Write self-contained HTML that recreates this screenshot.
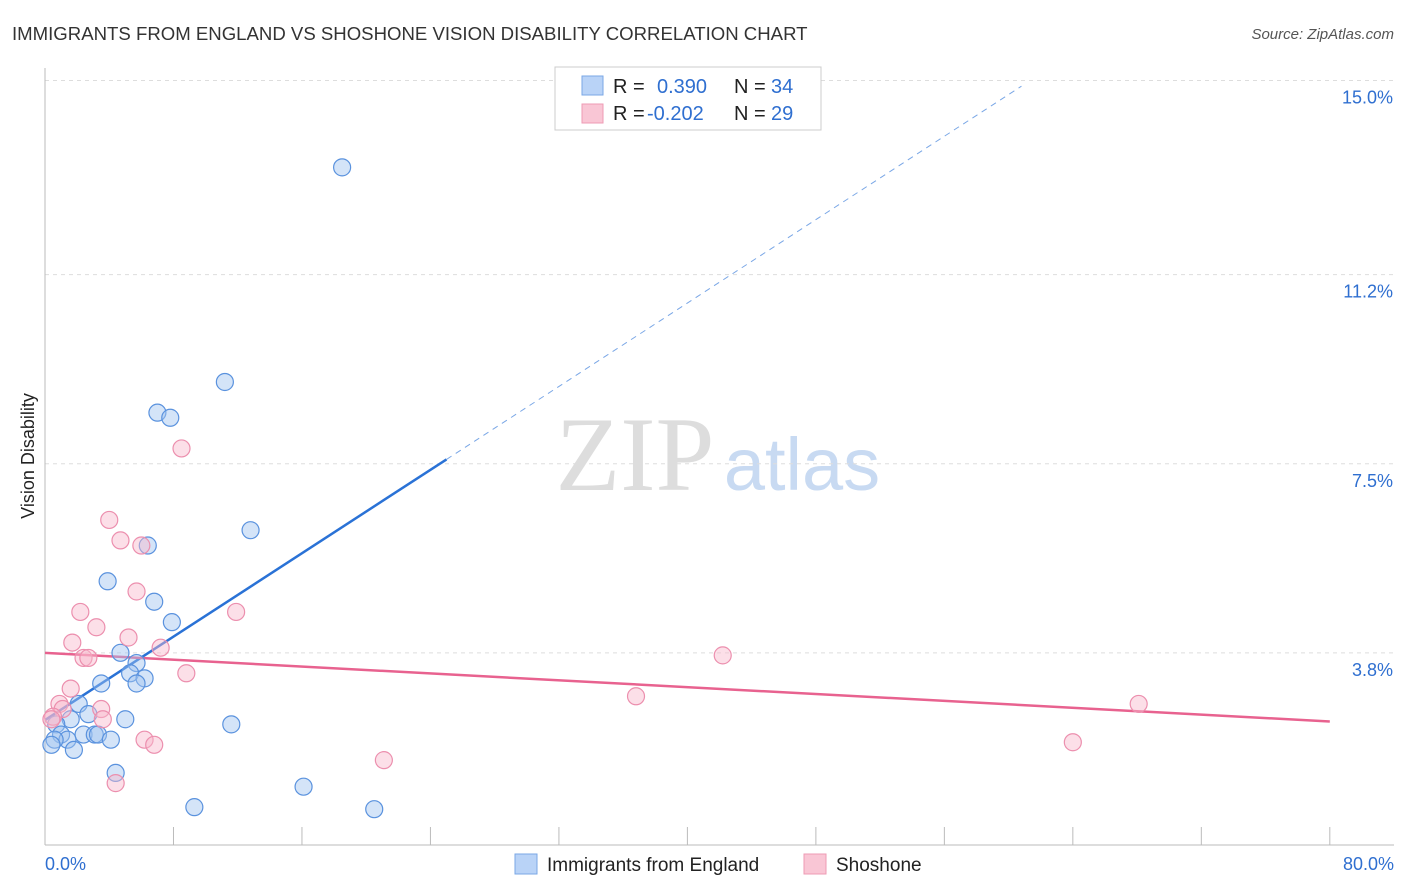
<!DOCTYPE html>
<html><head><meta charset="utf-8"><style>
body{margin:0;background:#fff;font-family:"Liberation Sans",sans-serif;}
svg{display:block}
</style></head><body>
<svg id="chart" width="1406" height="892">
<text x="12" y="40" font-size="18.6" fill="#333">IMMIGRANTS FROM ENGLAND VS SHOSHONE VISION DISABILITY CORRELATION CHART</text>
<text x="1394" y="39" font-size="15" fill="#555" font-style="italic" text-anchor="end">Source: ZipAtlas.com</text>
<text x="34" y="456" font-size="18" fill="#222" transform="rotate(-90 34 456)" text-anchor="middle">Vision Disability</text>
<g><text x="635" y="490" font-size="106" font-family="Liberation Serif,serif" fill="#ddd" text-anchor="middle">ZIP</text><text x="802" y="490" font-size="74" fill="#c8daf2" text-anchor="middle">atlas</text></g>
<g id="grid"></g><g id="axes"></g><g id="marks"></g>
<g>
<rect x="555" y="67" width="266" height="63" fill="#fff" stroke="#ccc"/>
<rect x="582" y="76" width="21" height="19" fill="#b9d3f7" stroke="#7aa7e6"/>
<rect x="582" y="104" width="21" height="19" fill="#f9c6d5" stroke="#ee9bb4"/>
<text x="613" y="93" font-size="20" fill="#222">R = </text><text x="657" y="93" font-size="20" fill="#2f6fd0">0.390</text>
<text x="734" y="93" font-size="20" fill="#222">N = </text><text x="771" y="93" font-size="20" fill="#2f6fd0">34</text>
<text x="613" y="120" font-size="20" fill="#222">R = </text><text x="647" y="120" font-size="20" fill="#2f6fd0">-0.202</text>
<text x="734" y="120" font-size="20" fill="#222">N = </text><text x="771" y="120" font-size="20" fill="#2f6fd0">29</text>
</g>
<g>
<rect x="515" y="854" width="22" height="20" fill="#b9d3f7" stroke="#7aa7e6"/><text x="547" y="871" font-size="19" fill="#222">Immigrants from England</text>
<rect x="804" y="854" width="22" height="20" fill="#f9c6d5" stroke="#ee9bb4"/><text x="836" y="871" font-size="19" fill="#222">Shoshone</text>
</g>
</svg>
<script>
const ns="http://www.w3.org/2000/svg";
const yTicks=[3.8,7.5,11.2,15.0];
const yTickLabels=["3.8%","7.5%","11.2%","15.0%"];
const xTickLabels=["0.0%","80.0%"];
const englandX=[18.5,11.2,7.0,7.8,12.8,6.4,3.9,6.8,7.9,4.7,5.7,5.3,6.2,5.7,3.5,2.1,2.7,5.0,1.6,0.7,11.6,1.0,2.4,3.1,3.3,4.1,1.4,0.6,0.4,1.8,4.4,16.1,9.3,20.5];
const englandY=[13.3,9.1,8.5,8.4,6.2,5.9,5.2,4.8,4.4,3.8,3.6,3.4,3.3,3.2,3.2,2.8,2.6,2.5,2.5,2.4,2.4,2.2,2.2,2.2,2.2,2.1,2.1,2.1,2.0,1.9,1.45,1.18,0.78,0.74];
const shoshoneX=[8.5,4.0,4.7,6.0,5.7,2.2,11.9,3.2,5.2,1.7,7.2,2.4,2.7,8.8,1.6,42.2,36.8,68.1,0.9,1.1,3.5,0.5,3.6,6.2,6.8,64.0,21.1,4.4,0.4];
const shoshoneY=[7.8,6.4,6.0,5.9,5.0,4.6,4.6,4.3,4.1,4.0,3.9,3.7,3.7,3.4,3.1,3.75,2.95,2.8,2.8,2.7,2.7,2.55,2.5,2.1,2.0,2.05,1.7,1.25,2.5];
const englandFit=[2.485,0.204];
const shoshoneFit=[3.8,-0.0168];
const X0=45,XS=16.06,Y0=847,YS=51.1;
const sx=v=>X0+v*XS, sy=v=>Y0-v*YS;
function el(t,a,p){const e=document.createElementNS(ns,t);for(const k in a)e.setAttribute(k,a[k]);p.appendChild(e);return e;}
const grid=document.getElementById('grid'),axes=document.getElementById('axes'),marks=document.getElementById('marks');
yTicks.forEach((v,i)=>{
 const g=el('line',{x1:45,x2:1394,y1:sy(v),y2:sy(v),stroke:'#ddd','stroke-dasharray':'4,4'},grid);
 
 
 const t=el('text',{x:1393,y:sy(v)+23,'font-size':18,fill:'#2f6fd0','text-anchor':'end'},axes);t.textContent=yTickLabels[i];
 
 
});
const xa=el('line',{x1:45,x2:1394,y1:845,y2:845,stroke:'#bbb'},axes);


const ya=el('line',{x1:45,x2:45,y1:68,y2:845,stroke:'#bbb'},axes);


for(let i=1;i<=10;i++){const tk=el('line',{x1:sx(i*8),x2:sx(i*8),y1:827,y2:845,stroke:'#bbb'},axes);
 
 }
[[0,xTickLabels[0],'start',45],[80,xTickLabels[1],'end',1394]].forEach(a=>{const t=el('text',{x:a[3],y:870,'font-size':18,fill:'#2f6fd0','text-anchor':a[2]},axes);t.textContent=a[1];
 
 });
const bf=x=>englandFit[0]+englandFit[1]*x;
let l=el('line',{x1:sx(0),y1:sy(bf(0)),x2:sx(25),y2:sy(bf(25)),stroke:'#2a72d6','stroke-width':2.5},marks);


l=el('line',{x1:sx(25),y1:sy(bf(25)),x2:sx(60.8),y2:sy(bf(60.8)),stroke:'#7aa7e6','stroke-width':1,'stroke-dasharray':'6,5'},marks);


const pf=x=>shoshoneFit[0]+shoshoneFit[1]*x;
l=el('line',{x1:sx(0),y1:sy(pf(0)),x2:sx(80),y2:sy(pf(80)),stroke:'#e8628f','stroke-width':2.5},marks);


englandX.forEach((x,i)=>{const c=el('circle',{cx:sx(x),cy:sy(englandY[i]),r:8.5,fill:'rgba(160,195,240,0.45)',stroke:'#5a92de','stroke-width':1.2},marks);
 
 });
shoshoneX.forEach((x,i)=>{const c=el('circle',{cx:sx(x),cy:sy(shoshoneY[i]),r:8.5,fill:'rgba(248,185,205,0.45)',stroke:'#ec8fae','stroke-width':1.2},marks);
 
 });
</script>
</body></html>
